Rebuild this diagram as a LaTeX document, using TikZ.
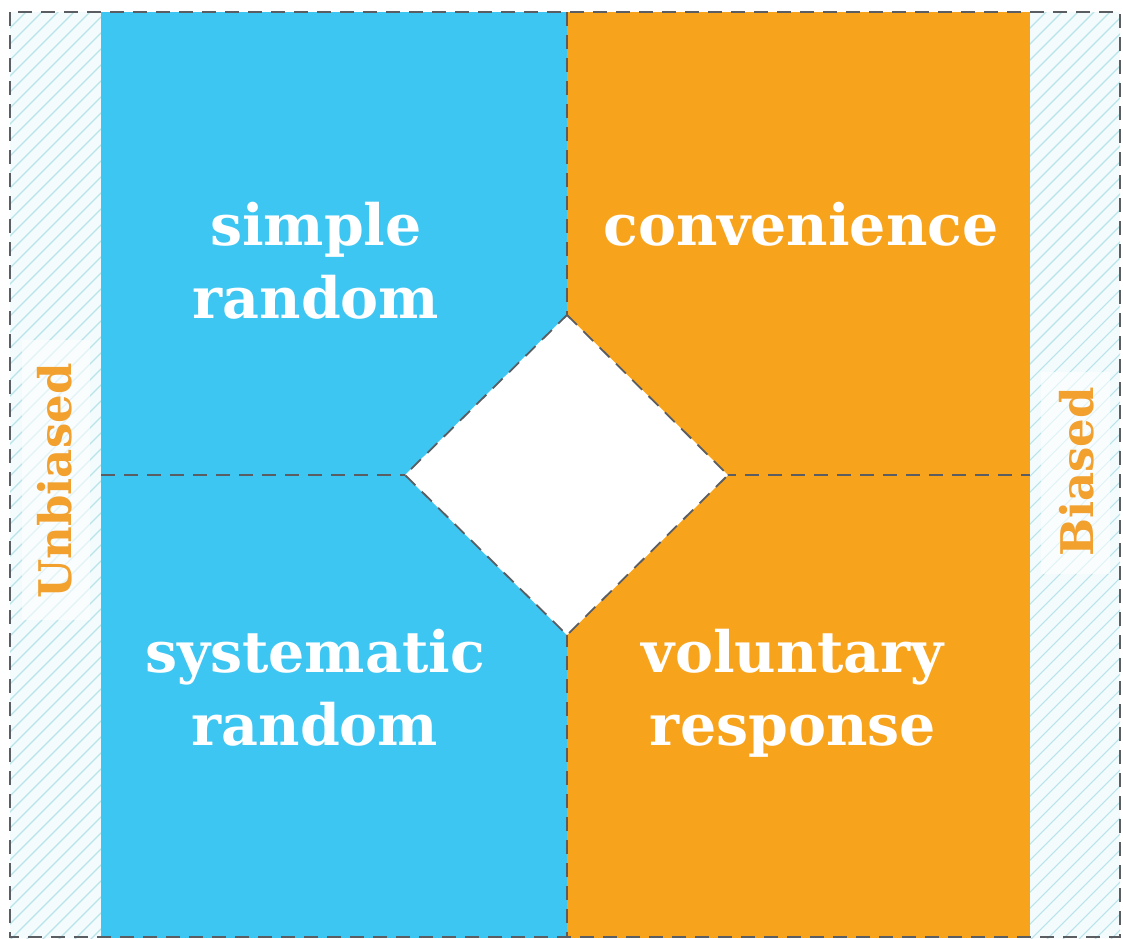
\documentclass[tikz,border=0pt]{standalone}
\usepackage{fontspec}
\newfontfamily\slab{DejaVu Serif}
\definecolor{qblue}{HTML}{3EC6F2}
\definecolor{qorange}{HTML}{F7A31C}
\definecolor{lblorange}{HTML}{F2A02E}
\definecolor{stripbg}{HTML}{F3FBFD}
\definecolor{hatchcol}{HTML}{B8E3EA}
\definecolor{dashcol}{HTML}{5A5E62}
\tikzset{
  dashline/.style={draw=dashcol, line width=1.8pt, dash pattern=on 14pt off 9pt},
  quadtext/.style={text=white, font=\slab\bfseries\fontsize{57}{73}\selectfont, align=center, anchor=base, inner sep=0pt},
  sidetext/.style={text=lblorange, font=\slab\bfseries\fontsize{45}{50}\selectfont, rotate=90, inner sep=0pt},
  hatchline/.style={draw=hatchcol, line width=1.1pt}
}
\begin{document}
\begin{tikzpicture}[x=1pt,y=-1pt]
\useasboundingbox (0,0) rectangle (1123,938);
\fill[white] (0,0) rectangle (1123,938);
% side strips
\fill[stripbg] (10,12) rectangle (101,938);
\fill[stripbg] (1030,12) rectangle (1120,938);
\begin{scope}
  \clip (10,12) rectangle (101,938);
  \foreach \i in {-120,-104,...,1000} \draw[hatchline] (0,\i+110) -- (110,\i);
\end{scope}
\begin{scope}
  \clip (1030,12) rectangle (1120,938);
  \foreach \i in {-120,-104,...,1000} \draw[hatchline] (1020,\i+110) -- (1130,\i);
\end{scope}
% white patches behind side labels
\fill[white, opacity=0.6] (22,340) rectangle (90,620);
\fill[white, opacity=0.6] (1041,372) rectangle (1110,574);
% quadrants
\fill[qblue] (101,12) rectangle (567,938);
\fill[qorange] (567,12) rectangle (1030,938);
% dividers
\coordinate (T) at (567,12);
\coordinate (B) at (567,938);
\coordinate (L) at (101,475);
\coordinate (R) at (1030,475);
\coordinate (DT) at (567,315);
\coordinate (DB) at (567,635);
\coordinate (DL) at (405,475);
\coordinate (DR) at (728,475);
\draw[dashline] (T) -- (B);
\draw[dashline] (L) -- (R);
% diamond
\filldraw[fill=white, dashline] (DT) -- (DR) -- (DB) -- (DL) -- cycle;
% outer border
\draw[dashline] (10,12) rectangle (1120,937);
% texts
\node[quadtext] (sr) at (316,318) {simple\\random};
\node[quadtext] (cv) at (801,245) {convenience};
\node[quadtext] (sy) at (315,745) {systematic\\random};
\node[quadtext] (vr) at (793,745) {voluntary\\response};
\node[sidetext] (ub) at (55,481) {Unbiased};
\node[sidetext] (bi) at (1077,472) {Biased};
\end{tikzpicture}
\end{document}
